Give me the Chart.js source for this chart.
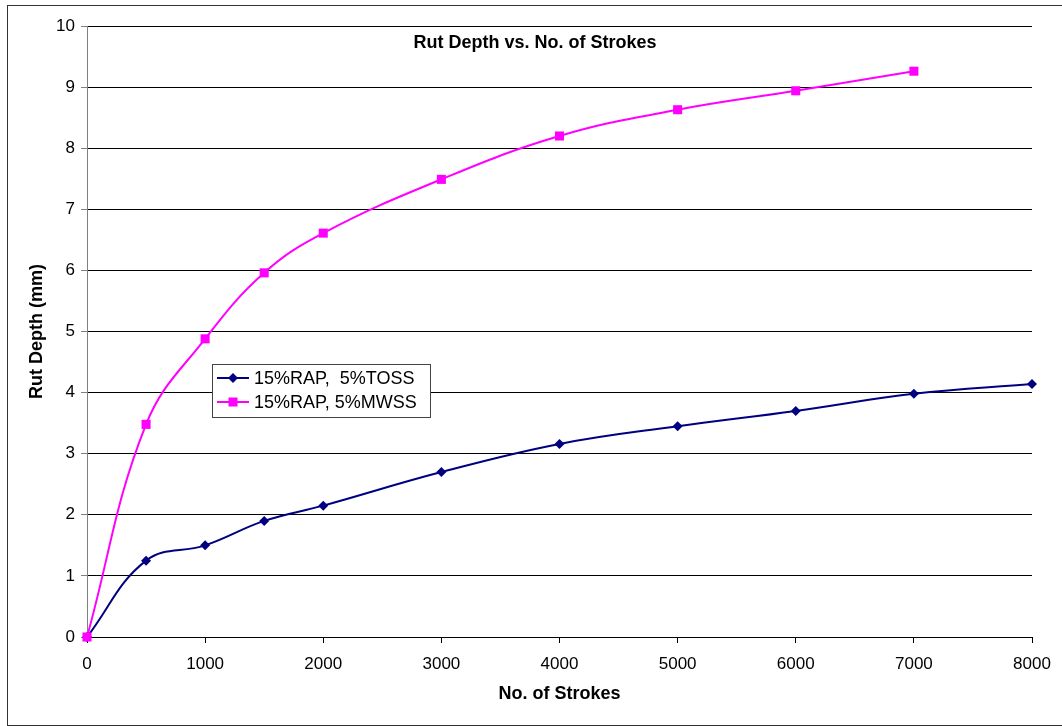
<!DOCTYPE html>
<html>
<head>
<meta charset="utf-8">
<script src="https://cdn.jsdelivr.net/npm/chart.js@4.4.1/dist/chart.umd.min.js"></script>
<style>
  html, body { margin: 0; padding: 0; background: #fff; overflow: hidden; }
  #frame { position: absolute; left: 7px; top: 5px; width: 1100px; height: 719px; border: 1px solid #333; }
  #wrap { position: absolute; left: 0; top: 0; width: 1062px; height: 726px; }
</style>
</head>
<body>
<div id="frame"></div>
<div id="wrap"><canvas id="rutChart" width="1062" height="726"></canvas></div>
<script>
// strokes (x) and rut depth (mm)
var strokesToss = [0, 500, 1000, 1500, 2000, 3000, 4000, 5000, 6000, 7000, 8000];
var rutToss = [0, 1.25, 1.5, 1.9, 2.15, 2.7, 3.16, 3.45, 3.7, 3.98, 4.14];
var strokesMwss = [0, 500, 1000, 1500, 2000, 3000, 4000, 5000, 6000, 7000];
var rutMwss = [0, 3.48, 4.88, 5.96, 6.61, 7.49, 8.2, 8.63, 8.94, 9.26];
var seriesNames = ['15%RAP,  5%TOSS', '15%RAP, 5%MWSS'];
var chartTitle = 'Rut Depth vs. No. of Strokes';

var toPoints = function(xs, ys) {
	var pts = [];
	for (var i = 0; i < xs.length; i++) {
		pts.push({ x: xs[i], y: ys[i] });
	}
	return pts;
};

var FONT = "'Liberation Sans', Arial, sans-serif";

// title and legend sit inside the plot area, excel style
var insidePlugin = {
	id: 'insideBits',
	afterDraw: function(chart) {
		var ctx = chart.ctx;
		ctx.save();
		ctx.fillStyle = '#000';
		ctx.font = 'bold 18px ' + FONT;
		ctx.textAlign = 'center';
		ctx.textBaseline = 'middle';
		ctx.fillText(chartTitle, 535, 43);

		// legend box
		var bx = 212, by = 364, bw = 218, bh = 53;
		ctx.fillStyle = '#fff';
		ctx.fillRect(bx, by, bw, bh);
		ctx.strokeStyle = '#444';
		ctx.lineWidth = 1;
		ctx.strokeRect(bx + 0.5, by + 0.5, bw, bh);
		ctx.font = '18px ' + FONT;
		ctx.textAlign = 'left';
		for (var i = 0; i < chart.data.datasets.length; i++) {
			var ds = chart.data.datasets[i];
			var cy = by + 14 + i * 24;
			ctx.strokeStyle = ds.borderColor;
			ctx.lineWidth = 2;
			ctx.beginPath();
			ctx.moveTo(bx + 5, cy);
			ctx.lineTo(bx + 37, cy);
			ctx.stroke();
			ctx.fillStyle = ds.borderColor;
			ctx.beginPath();
			if (ds.pointStyle === 'rectRot') {
				ctx.moveTo(bx + 21, cy - 5);
				ctx.lineTo(bx + 26, cy);
				ctx.lineTo(bx + 21, cy + 5);
				ctx.lineTo(bx + 16, cy);
			} else {
				ctx.rect(bx + 16.5, cy - 4.5, 9, 9);
			}
			ctx.fill();
			ctx.fillStyle = '#000';
			ctx.fillText(seriesNames[i], bx + 42, cy + 1);
		}
		ctx.restore();
	}
};

var chartSet = new Chart(document.getElementById('rutChart'), {
	type: 'line',
	data: {
		datasets: [
			{
				label: seriesNames[0],
				data: toPoints(strokesToss, rutToss),
				borderColor: '#000080',
				backgroundColor: '#000080',
				borderWidth: 2,
				pointStyle: 'rectRot',
				pointRadius: 5,
				pointBorderWidth: 0,
				tension: 0.4,
				clip: false,
				order: 1
			},
			{
				label: seriesNames[1],
				data: toPoints(strokesMwss, rutMwss),
				borderColor: '#ff00ff',
				backgroundColor: '#ff00ff',
				borderWidth: 2,
				pointStyle: 'rect',
				pointRadius: 6.4,
				pointBorderWidth: 0,
				tension: 0.4,
				clip: false,
				order: 0
			}
		]
	},
	options: {
		responsive: false,
		animation: false,
		layout: { padding: { top: 26, right: 30, left: 0, bottom: 0 } },
		plugins: {
			legend: { display: false },
			tooltip: { enabled: false }
		},
		scales: {
			x: {
				type: 'linear',
				min: 0,
				max: 8000,
				ticks: {
					stepSize: 1000, color: '#000', font: { family: FONT, size: 17 }, padding: 11, maxRotation: 0,
					callback: function(v) { return String(v); }
				},
				grid: { drawOnChartArea: false, drawTicks: true, tickLength: 6, tickColor: '#000' },
				border: { color: '#000', width: 1 },
				title: { display: true, text: 'No. of Strokes', color: '#000', font: { family: FONT, size: 18, weight: 'bold' }, padding: { top: 8, bottom: 21 } },
				afterFit: function(scale) { scale.height = 89; }
			},
			y: {
				min: 0,
				max: 10,
				ticks: { stepSize: 1, color: '#000', font: { family: FONT, size: 17 }, padding: 6 },
				grid: { color: '#000', lineWidth: 1, tickLength: 6, tickColor: '#808080' },
				border: { color: '#808080', width: 1 },
				title: { display: true, text: 'Rut Depth (mm)', color: '#000', font: { family: FONT, size: 18, weight: 'bold' }, padding: { top: 26 } },
				afterFit: function(scale) { scale.width = 87; }
			}
		}
	},
	plugins: [insidePlugin]
});
</script>
</body>
</html>
